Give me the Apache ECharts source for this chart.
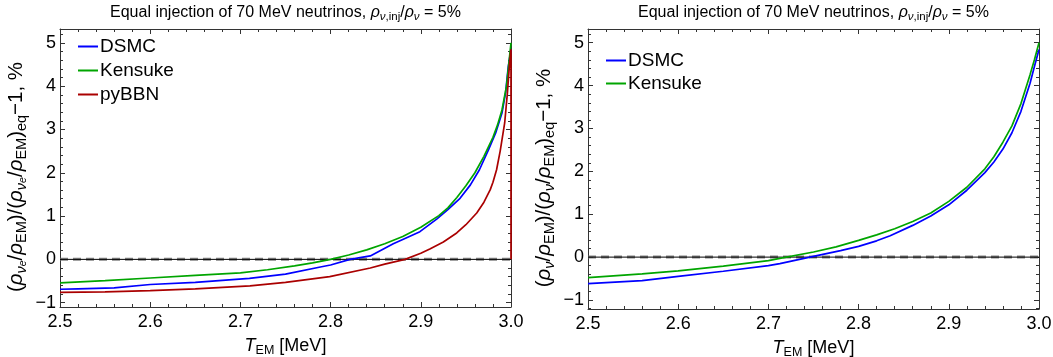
<!DOCTYPE html>
<html><head><meta charset="utf-8">
<script src="https://cdn.jsdelivr.net/npm/echarts@6/dist/echarts.min.js"></script>
<style>html,body{margin:0;padding:0;background:#fff}#c{width:1053px;height:357px}</style>
</head><body><div id="c"></div>
<script>
// ---- tick labels ----
const xTickLabels = [2.5, 2.6, 2.7, 2.8, 2.9, 3.0];
const yTickLabels = [-1, 0, 1, 2, 3, 4, 5];

// ---- left panel: nu_e ----
const tDsmcL = [2.50, 2.52, 2.56, 2.60, 2.65, 2.71, 2.75, 2.79, 2.80, 2.8215, 2.844, 2.8695, 2.88, 2.899, 2.9176, 2.93, 2.9435, 2.955, 2.965, 2.975, 2.983, 2.990, 2.994, 2.997, 3.000];
const dsmcL  = [-0.69, -0.68, -0.66, -0.58, -0.53, -0.44, -0.34, -0.17, -0.13, 0.0, 0.08, 0.36, 0.46, 0.64, 0.93, 1.15, 1.41, 1.72, 2.07, 2.53, 2.92, 3.38, 3.85, 4.45, 4.85];
const tKenL  = [2.50, 2.55, 2.60, 2.65, 2.70, 2.73, 2.76, 2.78, 2.80, 2.82, 2.84, 2.86, 2.88, 2.90, 2.92, 2.93, 2.94, 2.95, 2.96, 2.97, 2.98, 2.985, 2.99, 2.995, 3.000];
const kenL   = [-0.545, -0.49, -0.43, -0.37, -0.31, -0.24, -0.15, -0.08, 0.0, 0.10, 0.22, 0.36, 0.53, 0.74, 1.01, 1.19, 1.43, 1.70, 2.0, 2.38, 2.82, 3.1, 3.45, 4.0, 5.0];
const tBbnL  = [2.50, 2.55, 2.60, 2.65, 2.7106, 2.75, 2.799, 2.844, 2.86, 2.8825, 2.90, 2.91, 2.925, 2.9398, 2.95, 2.962, 2.97, 2.977, 2.98, 2.984, 2.988, 2.993, 2.996, 2.9985, 3.000, 3.000];
const bbnL   = [-0.76, -0.75, -0.72, -0.68, -0.61, -0.53, -0.40, -0.20, -0.11, 0.0, 0.14, 0.24, 0.40, 0.61, 0.80, 1.07, 1.32, 1.61, 1.78, 2.07, 2.5, 3.15, 3.84, 4.55, 4.85, 0.0];

// ---- right panel: nu ----
const tKenR  = [2.50, 2.56, 2.60, 2.65, 2.70, 2.7127, 2.75, 2.775, 2.80, 2.82, 2.84, 2.86, 2.88, 2.90, 2.92, 2.94, 2.95, 2.96, 2.97, 2.98, 2.99, 2.995, 3.000];
const kenR   = [-0.48, -0.39, -0.32, -0.21, -0.08, -0.03, 0.12, 0.24, 0.39, 0.52, 0.66, 0.83, 1.03, 1.30, 1.63, 2.06, 2.34, 2.68, 3.06, 3.58, 4.25, 4.61, 5.0];
const tDsmcR = [2.50, 2.56, 2.60, 2.65, 2.70, 2.7127, 2.746, 2.78, 2.80, 2.82, 2.835, 2.86, 2.88, 2.90, 2.92, 2.94, 2.95, 2.96, 2.97, 2.98, 2.99, 2.995, 3.000];
const dsmcR  = [-0.62, -0.55, -0.45, -0.33, -0.20, -0.15, 0.0, 0.15, 0.25, 0.38, 0.50, 0.74, 0.96, 1.22, 1.56, 1.97, 2.22, 2.52, 2.90, 3.40, 4.05, 4.45, 4.84];

const zeroLevel = 0;

const FONT = 'Liberation Sans, Arial, sans-serif';
const COL = { DSMC: '#0000ff', Kensuke: '#00a500', pyBBN: '#aa0000' };
const AX = '#333';

const yMinor = [-1.2];
for (let i = 0; i < yTickLabels.length; i++) {
  for (let k = 1; k < 5; k++) yMinor.push(+(yTickLabels[i] + k * 0.2).toFixed(2));
}
const fmtNum = v => (v < 0 ? '\u2212' + Math.abs(v) : String(v));

const chart = echarts.init(document.getElementById('c'), null, { renderer: 'canvas' });

const grids = [
  { left: 60, top: 29, width: 451, height: 278, ymin: -1.10, ymax: 5.32, yname: 'L' },
  { left: 588, top: 29, width: 451, height: 280, ymin: -1.21, ymax: 5.32, yname: 'R' }
];

function richSet(main, sub, subsub, lh) {
  return {
    n: { fontSize: main, fontFamily: FONT, color: '#000', lineHeight: lh, verticalAlign: 'middle' },
    i: { fontSize: main, fontFamily: FONT, fontStyle: 'italic', color: '#000', lineHeight: lh, verticalAlign: 'middle' },
    s: { fontSize: sub, fontFamily: FONT, color: '#000', lineHeight: sub + 2, verticalAlign: 'bottom' },
    si: { fontSize: sub, fontFamily: FONT, fontStyle: 'italic', color: '#000', lineHeight: sub + 2, verticalAlign: 'bottom' },
    ss: { fontSize: subsub, fontFamily: FONT, fontStyle: 'italic', color: '#000', lineHeight: subsub - 1, verticalAlign: 'bottom' }
  };
}
const yRich = richSet(20.5, 14.5, 10.5, 26);
const xRich = richSet(18, 12.5, 9, 22);

const yNameL = '{n|(}{i|ρ}{si|ν}{ss|e}{n|/}{i|ρ}{s|EM}{n|)/(}{i|ρ}{si|ν}{ss|e}{n|/}{i|ρ}{s|EM}{n|)}{s|eq}{n|\u22121, %}';
const yNameR = '{n|(}{i|ρ}{si|ν}{n|/}{i|ρ}{s|EM}{n|)/(}{i|ρ}{si|ν}{n|/}{i|ρ}{s|EM}{n|)}{s|eq}{n|\u22121, %}';
const xName = '{i|T}{s|EM}{n| [MeV]}';

const xAxes = [], yAxes = [];
grids.forEach((g, gi) => {
  const common = {
    type: 'value', gridIndex: gi, min: 2.5, max: 3.0, interval: 0.1,
    axisLine: { show: true, onZero: false, lineStyle: { color: AX, width: 1 } },
    axisTick: { show: true, inside: true, length: 5, lineStyle: { color: AX } },
    minorTick: { show: true, splitNumber: 5, length: 3, lineStyle: { color: AX } },
    splitLine: { show: false }, minorSplitLine: { show: false }
  };
  xAxes.push(Object.assign({}, common, {
    position: 'bottom',
    axisLabel: { show: true, fontSize: 18, fontFamily: FONT, color: '#000', margin: 6,
      customValues: xTickLabels, formatter: v => v.toFixed(1) },
    name: xName, nameLocation: 'middle', nameGap: 28,
    nameTextStyle: { rich: xRich }
  }));
  xAxes.push(Object.assign({}, common, { position: 'top', axisLabel: { show: false } }));
  const ycommon = { type: 'value', gridIndex: gi, min: g.ymin, max: g.ymax, splitLine: { show: false } };
  const minors = yMinor.filter(v => v > g.ymin && v < g.ymax);
  yAxes.push(Object.assign({}, ycommon, {
    position: 'left',
    axisLine: { show: true, onZero: false, lineStyle: { color: AX, width: 1 } },
    axisTick: { show: true, inside: true, length: 5, customValues: yTickLabels, lineStyle: { color: AX } },
    axisLabel: { show: true, fontSize: 18, fontFamily: FONT, color: '#000', margin: 4,
      customValues: yTickLabels, formatter: fmtNum },
    name: g.yname === 'L' ? yNameL : yNameR, nameLocation: 'middle', nameGap: 31, nameRotate: 90,
    nameTextStyle: { rich: yRich, padding: [0, 18, 0, 0] }
  }));
  yAxes.push(Object.assign({}, ycommon, {
    position: 'left', axisLine: { show: false },
    axisTick: { show: true, inside: true, length: 3, customValues: minors, lineStyle: { color: AX } },
    axisLabel: { show: false }
  }));
  yAxes.push(Object.assign({}, ycommon, {
    position: 'right',
    axisLine: { show: true, onZero: false, lineStyle: { color: AX, width: 1 } },
    axisTick: { show: true, inside: true, length: 5, customValues: yTickLabels, lineStyle: { color: AX } },
    axisLabel: { show: false }
  }));
  yAxes.push(Object.assign({}, ycommon, {
    position: 'right', axisLine: { show: false },
    axisTick: { show: true, inside: true, length: 3, customValues: minors, lineStyle: { color: AX } },
    axisLabel: { show: false }
  }));
});

const zip = (a, b) => a.map((t, i) => [t, b[i]]);
const xExtent = [xTickLabels[0], xTickLabels[xTickLabels.length - 1]];
const zeroData = xExtent.map(t => [t, zeroLevel]);

function line(name, t, v, gi) {
  return {
    type: 'line', name, xAxisIndex: gi * 2, yAxisIndex: gi * 4,
    data: zip(t, v), showSymbol: false, symbol: 'none', clip: true,
    lineStyle: { color: COL[name], width: 1.7 }, itemStyle: { color: COL[name] },
    animation: false, z: 3
  };
}
function zeroSeries(gi) {
  return [
    { type: 'line', name: 'zero-dash', xAxisIndex: gi * 2, yAxisIndex: gi * 4, data: zeroData,
      showSymbol: false, symbol: 'none', silent: true, animation: false, z: 1,
      lineStyle: { color: 'rgba(110,110,110,0.85)', width: 3, type: [8, 5] } },
    { type: 'line', name: 'zero', xAxisIndex: gi * 2, yAxisIndex: gi * 4, data: zeroData,
      showSymbol: false, symbol: 'none', silent: true, animation: false, z: 2,
      lineStyle: { color: '#000', width: 1 } }
  ];
}

const series = [
  ...zeroSeries(0), ...zeroSeries(1),
  line('DSMC', tDsmcL, dsmcL, 0),
  line('Kensuke', tKenL, kenL, 0),
  line('pyBBN', tBbnL, bbnL, 0),
  line('DSMC', tDsmcR, dsmcR, 1),
  line('Kensuke', tKenR, kenR, 1)
];

const titleRich = {
  n: { fontSize: 16, fontFamily: FONT, color: '#000', lineHeight: 19, verticalAlign: 'middle' },
  i: { fontSize: 16, fontFamily: FONT, fontStyle: 'italic', color: '#000', lineHeight: 19, verticalAlign: 'middle' },
  s: { fontSize: 11.5, fontFamily: FONT, fontStyle: 'italic', color: '#000', lineHeight: 13, verticalAlign: 'bottom' },
  s2: { fontSize: 11.5, fontFamily: FONT, color: '#000', lineHeight: 13, verticalAlign: 'bottom' }
};
const titleText = '{n|Equal injection of 70 MeV neutrinos, }{i|ρ}{s|ν}{s2|,inj}{n|/}{i|ρ}{s|ν}{n| = 5%}';

const legendCommon = {
  orient: 'vertical', icon: 'rect', itemWidth: 20, itemHeight: 2, padding: 0,
  textStyle: { fontSize: 19, fontFamily: FONT, color: '#000', padding: [0, 0, 0, -3] }
};

chart.setOption({
  backgroundColor: '#fff',
  animation: false,
  grid: grids.map(g => ({ left: g.left, top: g.top, width: g.width, height: g.height,
    containLabel: false, outerBoundsMode: 'none' })),
  xAxis: xAxes,
  yAxis: yAxes,
  legend: [
    Object.assign({}, legendCommon, { left: 78, top: 37, itemGap: 5, data: ['DSMC', 'Kensuke', 'pyBBN'] }),
    Object.assign({}, legendCommon, { left: 606, top: 51, itemGap: 4, data: ['DSMC', 'Kensuke'] })
  ],
  graphic: [
    { type: 'text', x: 285.5, y: 13, style: { text: titleText, rich: titleRich, align: 'center', verticalAlign: 'middle' } },
    { type: 'text', x: 813.5, y: 13, style: { text: titleText, rich: titleRich, align: 'center', verticalAlign: 'middle' } }
  ],
  series
});
</script></body></html>
